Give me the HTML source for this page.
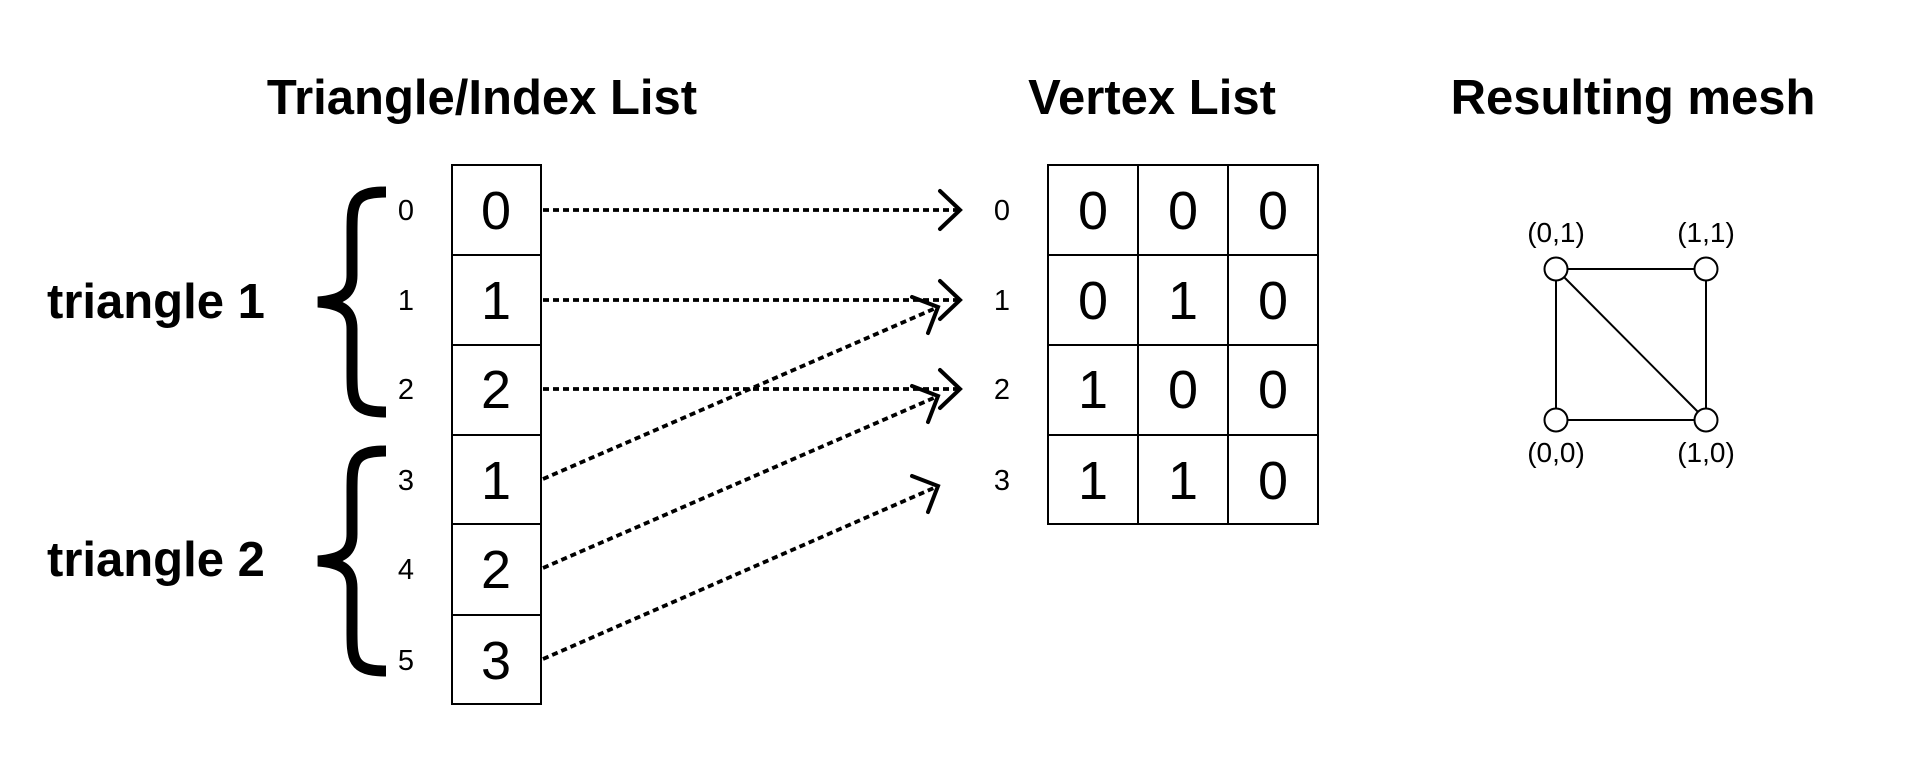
<!DOCTYPE html>
<html><head><meta charset="utf-8"><style>
html,body{margin:0;padding:0;background:#fff;width:1920px;height:780px;overflow:hidden}
svg{display:block}
text{font-family:"Liberation Sans",Arial,sans-serif;fill:#000}
.t{font-weight:bold;font-size:49px;text-anchor:middle}
.s{font-size:29px;text-anchor:middle}
.c{font-size:54px;text-anchor:middle}
.m{font-size:28px;text-anchor:middle}
.d{stroke:#000;stroke-width:3.8;stroke-dasharray:6 4;fill:none}
.h{stroke:#000;stroke-width:4;fill:none;stroke-linecap:round;stroke-linejoin:miter}
</style></head><body>
<svg width="1920" height="780" viewBox="0 0 1920 780" xmlns="http://www.w3.org/2000/svg">
<text class="t" x="482" y="114">Triangle/Index List</text>
<text class="t" x="1152" y="114">Vertex List</text>
<text class="t" x="1633" y="114">Resulting mesh</text>
<text x="47" y="318" style="font-weight:bold;font-size:49px">triangle 1</text>
<text x="47" y="576" style="font-weight:bold;font-size:49px">triangle 2</text>
<path d="M386,192 C350,192 352,205 352,240 L352,275 C352,292 344,300 318,302 C344,304 352,312 352,329 L352,364 C352,399 350,412 386,412" fill="none" stroke="#000" stroke-width="11"/>
<path d="M386,451 C350,451 352,464 352,499 L352,534 C352,551 344,559 318,561 C344,563 352,571 352,588 L352,623 C352,658 350,671 386,671" fill="none" stroke="#000" stroke-width="11"/>
<text class="s" x="406" y="220">0</text><text class="s" x="406" y="310">1</text><text class="s" x="406" y="399">2</text>
<text class="s" x="406" y="490">3</text><text class="s" x="406" y="579">4</text><text class="s" x="406" y="670">5</text>
<text class="s" x="1002" y="220">0</text><text class="s" x="1002" y="310">1</text><text class="s" x="1002" y="399">2</text><text class="s" x="1002" y="490">3</text>
<g stroke="#000" stroke-width="2" fill="none">
<rect x="452" y="165" width="89" height="539"/>
<line x1="452" y1="255" x2="541" y2="255"/><line x1="452" y1="345" x2="541" y2="345"/>
<line x1="452" y1="435" x2="541" y2="435"/><line x1="452" y1="524" x2="541" y2="524"/>
<line x1="452" y1="615" x2="541" y2="615"/>
<rect x="1048" y="165" width="270" height="359"/>
<line x1="1138" y1="165" x2="1138" y2="524"/><line x1="1228" y1="165" x2="1228" y2="524"/>
<line x1="1048" y1="255" x2="1318" y2="255"/><line x1="1048" y1="345" x2="1318" y2="345"/><line x1="1048" y1="435" x2="1318" y2="435"/>
</g>
<text class="c" x="496" y="229">0</text><text class="c" x="496" y="319">1</text><text class="c" x="496" y="408">2</text>
<text class="c" x="496" y="499">1</text><text class="c" x="496" y="588">2</text><text class="c" x="496" y="679">3</text>
<text class="c" x="1093" y="229">0</text><text class="c" x="1183" y="229">0</text><text class="c" x="1273" y="229">0</text>
<text class="c" x="1093" y="319">0</text><text class="c" x="1183" y="319">1</text><text class="c" x="1273" y="319">0</text>
<text class="c" x="1093" y="408">1</text><text class="c" x="1183" y="408">0</text><text class="c" x="1273" y="408">0</text>
<text class="c" x="1093" y="499">1</text><text class="c" x="1183" y="499">1</text><text class="c" x="1273" y="499">0</text>
<line class="d" x1="543" y1="210" x2="958" y2="210"/>
<line class="d" x1="543" y1="300" x2="958" y2="300"/>
<line class="d" x1="543" y1="389" x2="958" y2="389"/>
<path class="h" d="M940,191 L960,210 L940,229"/>
<path class="h" d="M940,281 L960,300 L940,319"/>
<path class="h" d="M940,370 L960,389 L940,408"/>
<line class="d" x1="543" y1="479" x2="936" y2="308"/>
<line class="d" x1="543" y1="568" x2="936" y2="397"/>
<line class="d" x1="543" y1="659" x2="936" y2="487"/>
<path class="h" d="M912,297 L938,307 L928,333"/>
<path class="h" d="M912,386 L938,396 L928,422"/>
<path class="h" d="M912,476 L938,486 L928,512"/>
<g stroke="#000" stroke-width="2" fill="none">
<line x1="1556" y1="269" x2="1706" y2="269"/><line x1="1556" y1="420" x2="1706" y2="420"/>
<line x1="1556" y1="269" x2="1556" y2="420"/><line x1="1706" y1="269" x2="1706" y2="420"/>
<line x1="1556" y1="269" x2="1706" y2="420"/>
</g>
<g stroke="#000" stroke-width="2" fill="#fff">
<circle cx="1556" cy="269" r="11.5"/><circle cx="1706" cy="269" r="11.5"/>
<circle cx="1556" cy="420" r="11.5"/><circle cx="1706" cy="420" r="11.5"/>
</g>
<text class="m" x="1556" y="242">(0,1)</text><text class="m" x="1706" y="242">(1,1)</text>
<text class="m" x="1556" y="462">(0,0)</text><text class="m" x="1706" y="462">(1,0)</text>
</svg>
</body></html>
